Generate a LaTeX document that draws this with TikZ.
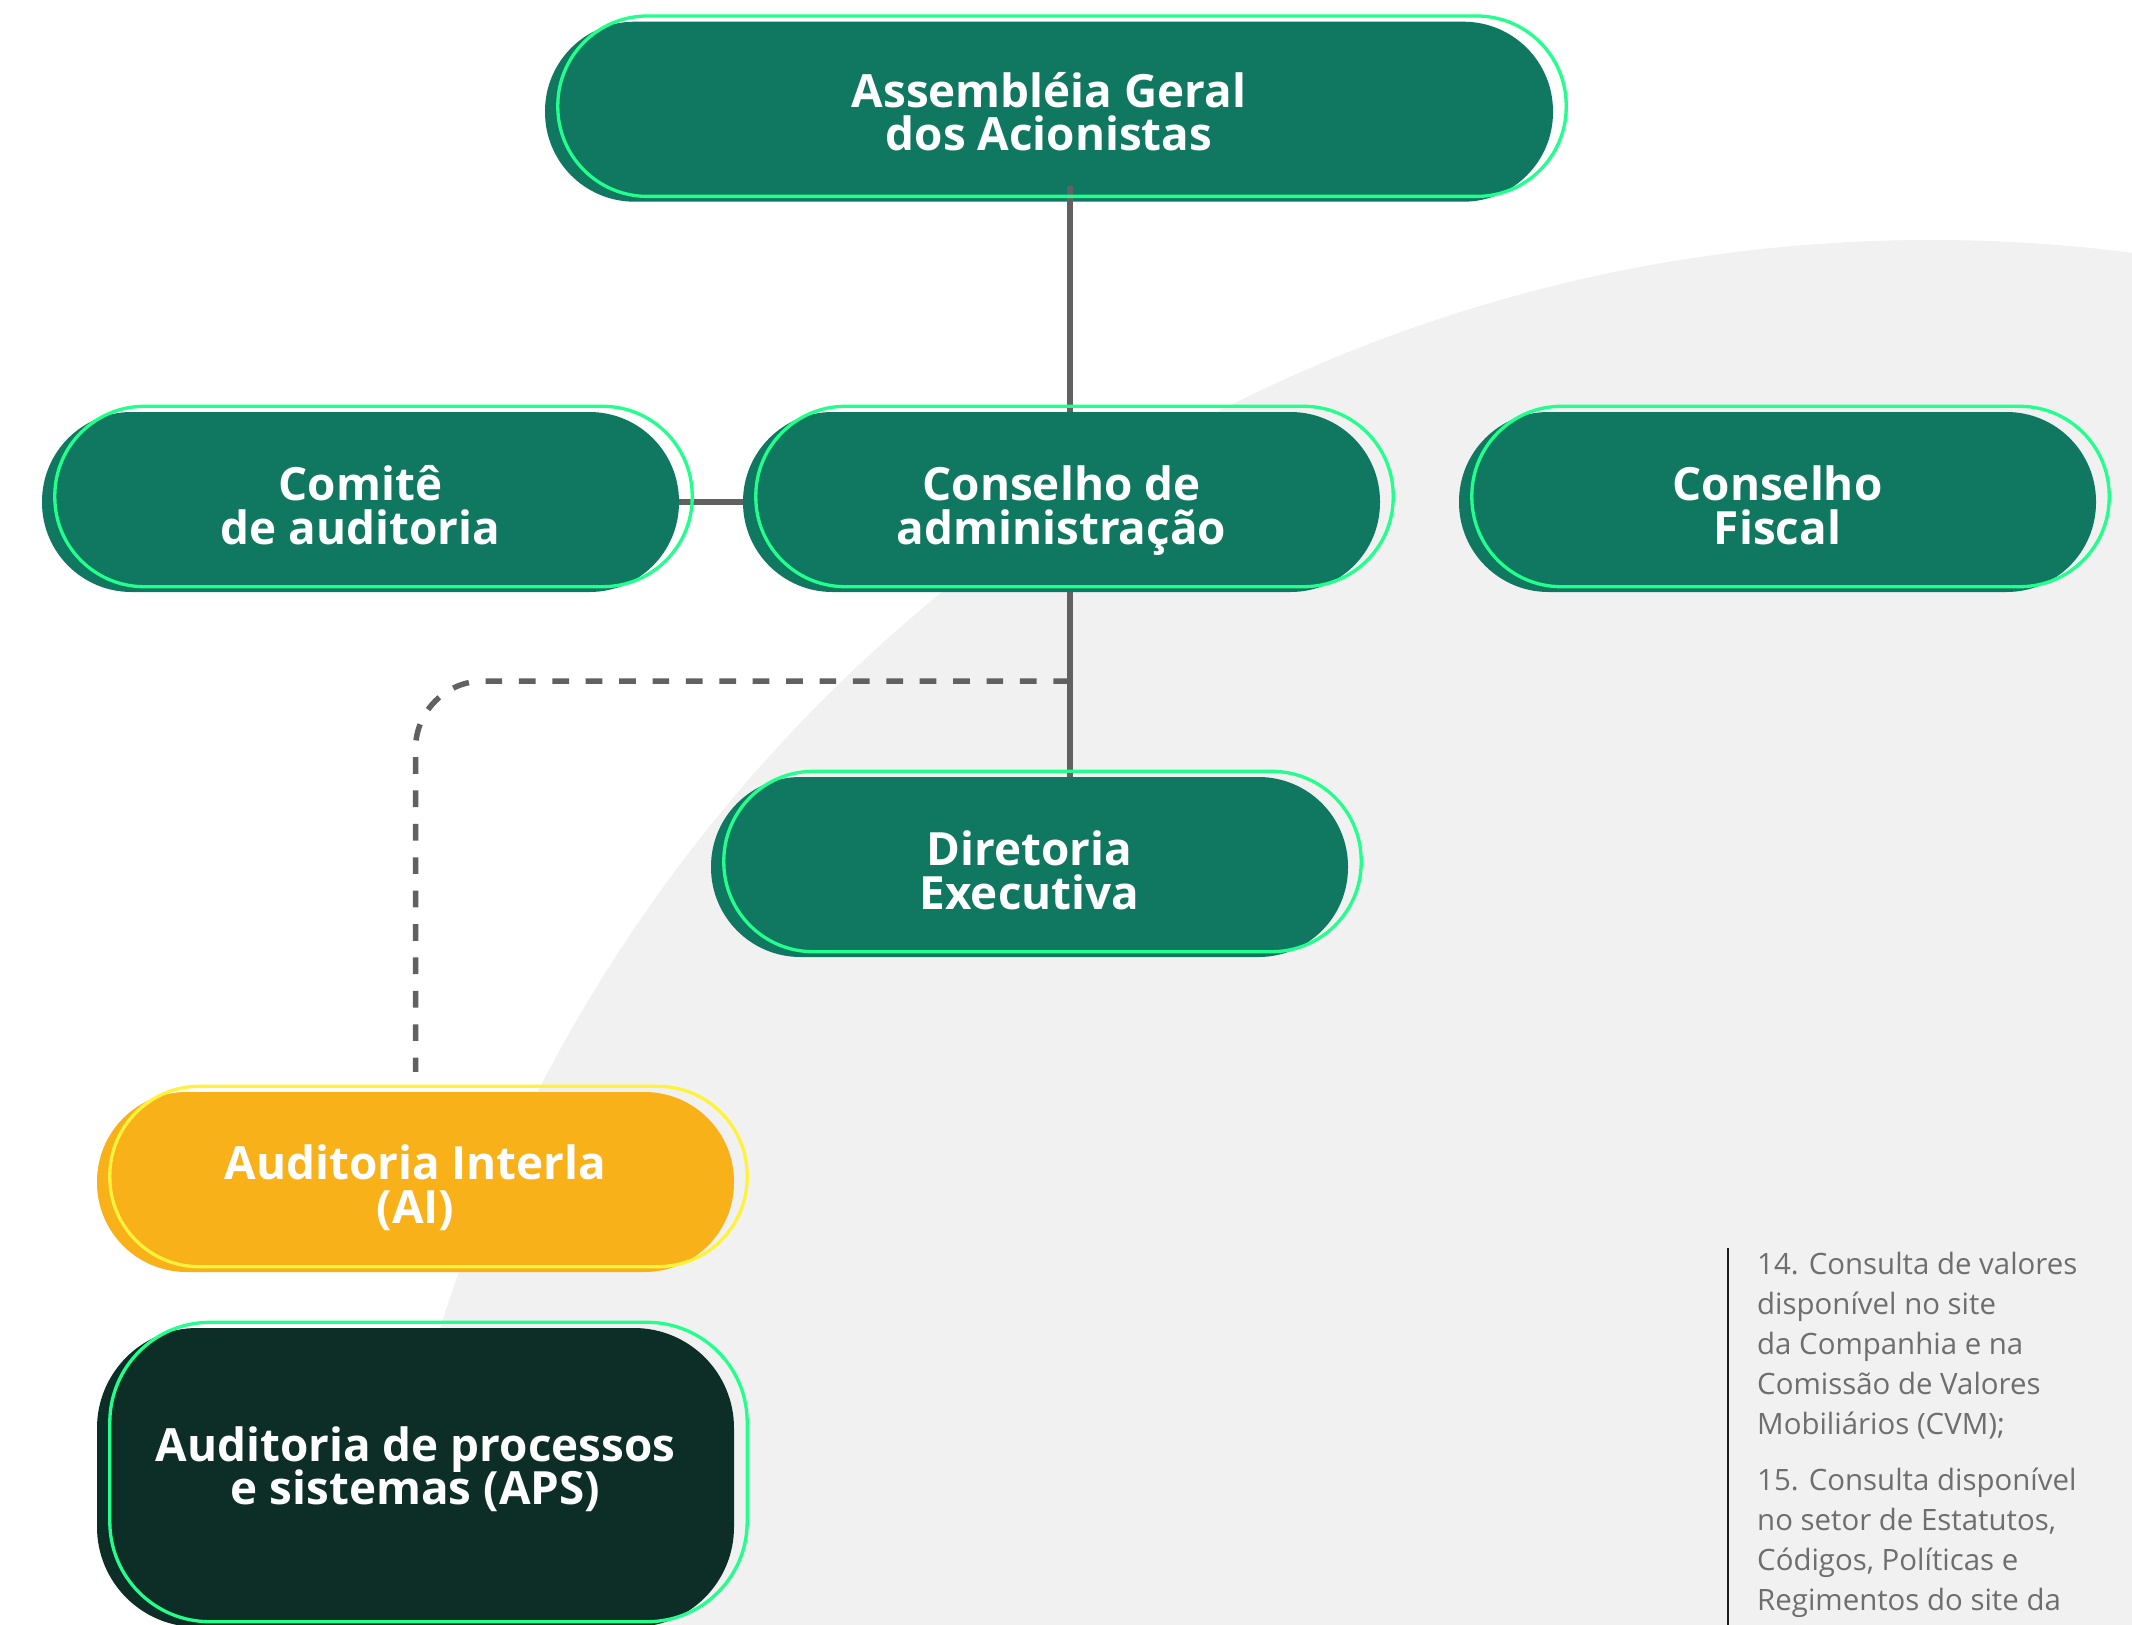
\documentclass[tikz,border=0pt]{standalone}
\usepackage{fontspec}
\setmainfont{Open Sans}
\usetikzlibrary{calc}
\definecolor{boxgreen}{HTML}{107860}
\definecolor{linegreen}{HTML}{22FF8C}
\definecolor{boxorange}{HTML}{F9B11A}
\definecolor{lineyellow}{HTML}{FFF23C}
\definecolor{boxdark}{HTML}{0C2E27}
\definecolor{conngray}{HTML}{616161}
\definecolor{bggray}{HTML}{F1F1F1}
\definecolor{notegray}{HTML}{6E6E6E}
\definecolor{bardark}{HTML}{1E1E1E}
\newcommand\boxoutline[2][]{\draw[outl,#1] ($(#2.north west)+(13,-5.5)$) rectangle ($(#2.south east)+(13,-5.5)$);}
\newcommand\mytopstrut[1]{\rule{0pt}{#1}}
\newcommand\mybotstrut[1]{\rule[-#1]{0pt}{#1}}
\begin{document}
\begin{tikzpicture}[x=1pt,y=-1pt,
  orgbox/.style={rectangle, rounded corners=89.5pt, minimum width=637pt, minimum height=180pt,
    inner sep=0pt, align=center, text=white,
    font=\fontsize{45.8}{43.5}\selectfont\bfseries, fill=boxgreen},
  outl/.style={draw=linegreen, line width=3.3pt, rounded corners=89.5pt},
  conn/.style={draw=conngray, line width=6pt},
  dashconn/.style={draw=conngray, line width=5.5pt, dash pattern=on 16.7pt off 16.7pt, rounded corners=68pt},
  note/.style={anchor=base west, inner sep=0pt, align=left, text=notegray,
    font=\fontsize{29.4}{40}\selectfont}
]
\useasboundingbox (0,0) rectangle (2132,1624);
\fill[white] (0,0) rectangle (2132,1624);
\begin{scope}
  \clip (0,0) rectangle (2132,1624);
  \fill[bggray] (1931,1805) circle[radius=1565pt];
\end{scope}

% boxes
\node[orgbox, minimum width=1008pt] (asm) at (1049,111.7) {Assembléia Geral\\dos Acionistas};
\node[orgbox] (com) at (360.5,502) {\mytopstrut{41pt}Comitê\\de auditoria};
\node[orgbox] (cons) at (1061.5,502) {\mytopstrut{41pt}Conselho de\\administra\smash{ç}ão};
\node[orgbox] (fis) at (1777.5,502) {\mytopstrut{41pt}Conselho\\Fiscal};
\node[orgbox] (dir) at (1029.5,867) {\mytopstrut{41pt}Diretoria\\Executiva};
\node[orgbox, fill=boxorange] (ai) at (415.5,1182) {\mytopstrut{46pt}Auditoria Interla\\(AI)};
\node[orgbox, fill=boxdark, minimum height=299pt, rounded corners=100pt] (aps) at (415.5,1477.5) {Auditoria de processos\\\smash{e sistemas (APS)}\mybotstrut{23.5pt}};

% connectors
\coordinate (jn) at (1070,681);
\draw[conn] ($(asm.south -| jn)+(0,-16)$) -- (cons.north -| jn);
\draw[conn] (com.east) -- (cons.west);
\draw[conn] (cons.south -| jn) -- (dir.north -| jn);
\draw[dashconn] (jn) -- (jn -| ai.north) -- ($(ai.north)+(0,-20)$);

% outlines
\boxoutline{asm}
\boxoutline{com}
\boxoutline{cons}
\boxoutline{fis}
\boxoutline{dir}
\boxoutline[draw=lineyellow]{ai}
\boxoutline[rounded corners=100pt]{aps}

% side note
\draw[draw=bardark, line width=2.7pt] (1728,1248) -- (1728,1630);
\node[note] (n14) at (1757,1434) {14. Consulta de valores\\disponível no site\\da Companhia e na\\Comissão de Valores\\Mobiliários (CVM);};
\node[note] (n15) at (1757,1610) {15. Consulta disponível\\no setor de Estatutos,\\Códigos, Políticas e\\Regimentos do site da};
\end{tikzpicture}
\end{document}
